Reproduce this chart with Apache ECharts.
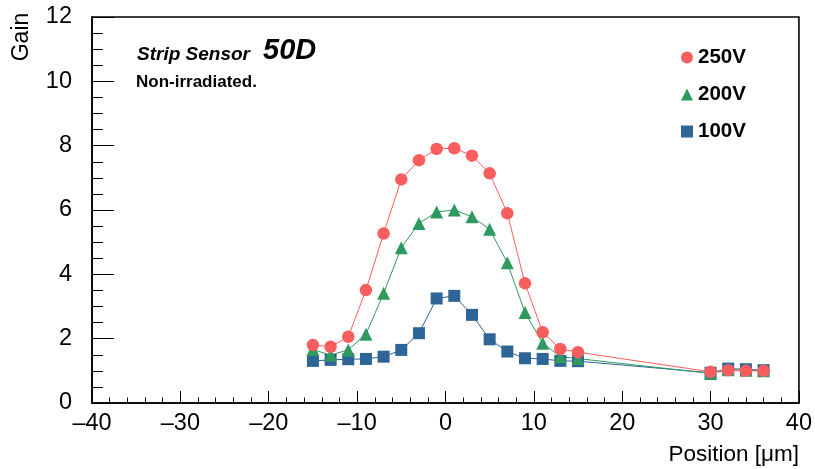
<!DOCTYPE html>
<html>
<head>
<meta charset="utf-8">
<script src="https://cdn.jsdelivr.net/npm/echarts@6/dist/echarts.min.js"></script>
<style>html,body{margin:0;padding:0;background:#fff}#c{width:815px;height:469px}</style>
</head>
<body>
<div id="c"></div>
<script>
const positions = [-15,-13,-11,-9,-7,-5,-3,-1,1,3,5,7,9,11,13,15,30,32,34,36];
const gain250 = [1.80,1.75,2.06,3.51,5.27,6.95,7.55,7.90,7.92,7.69,7.14,5.90,3.72,2.20,1.68,1.58,0.97,1.02,1.00,1.00];
const gain200 = [1.66,1.49,1.65,2.14,3.41,4.83,5.58,5.94,6.00,5.79,5.40,4.36,2.81,1.86,1.44,1.38,0.92,1.03,1.02,1.00];
const gain100 = [1.31,1.34,1.36,1.37,1.44,1.65,2.17,3.25,3.33,2.74,1.98,1.60,1.39,1.37,1.31,1.30,0.94,1.07,1.05,1.02];
const seriesNames = ['250V','200V','100V'];
const xTickLabels = {'-40':'\u201340','-30':'\u201330','-20':'\u201320','-10':'\u201310','0':'0','10':'10','20':'20','30':'30','40':'40'};
const FONT = '"Liberation Sans", Arial, Helvetica, sans-serif';
const RED = '#f95e5e', GREEN = '#2f9a60', BLUE = '#2f6497';

function pairs(ys){ return positions.map((x,i)=>[x, ys[i]]); }

const chart = echarts.init(document.getElementById('c'), null, {renderer:'canvas'});
chart.setOption({
  animation:false,
  backgroundColor:'#fff',
  grid:{left:92, right:16, top:17, bottom:66, show:true, borderColor:'#000', borderWidth:1.6, backgroundColor:'transparent'},
  xAxis:{
    type:'value', min:-40, max:40, interval:10,
    axisLine:{show:true, onZero:false, lineStyle:{color:'#000', width:1.6}},
    axisTick:{show:true, inside:true, length:12, lineStyle:{color:'#000', width:1}},
    minorTick:{show:true, splitNumber:5, length:5.5, lineStyle:{color:'#000', width:1}},
    splitLine:{show:false},
    axisLabel:{margin:9, color:'#000', fontSize:23.5, fontFamily:FONT, formatter:v=>xTickLabels[String(v)]}
  },
  yAxis:{
    type:'value', min:0, max:12, interval:2,
    axisLine:{show:true, onZero:false, lineStyle:{color:'#000', width:1.6}},
    axisTick:{show:true, inside:true, length:22, lineStyle:{color:'#000', width:1}},
    minorTick:{show:true, splitNumber:4, length:11, lineStyle:{color:'#000', width:1}},
    splitLine:{show:false},
    axisLabel:{margin:20, color:'#000', fontSize:23.5, fontFamily:FONT}
  },
  legend:{
    orient:'vertical', left:676, top:42, itemWidth:12, itemHeight:12, itemGap:16,
    textStyle:{fontSize:20.5, fontWeight:'bold', fontFamily:FONT, color:'#000', lineHeight:21},
    data:[{name:seriesNames[0], icon:'circle'},{name:seriesNames[1], icon:'triangle'},{name:seriesNames[2], icon:'rect'}]
  },
  series:[
    {name:seriesNames[2], type:'line', data:pairs(gain100), symbol:'rect', symbolSize:12, showAllSymbol:true,
     itemStyle:{color:BLUE}, lineStyle:{color:BLUE, width:1}},
    {name:seriesNames[1], type:'line', data:pairs(gain200), symbol:'triangle', symbolSize:13, showAllSymbol:true,
     itemStyle:{color:GREEN}, lineStyle:{color:GREEN, width:1}},
    {name:seriesNames[0], type:'line', data:pairs(gain250), symbol:'circle', symbolSize:12.5, showAllSymbol:true,
     itemStyle:{color:RED}, lineStyle:{color:RED, width:1}}
  ],
  graphic:[
    {type:'text', x:137, y:55, style:{text:'Strip Sensor', font:'italic bold 19px '+FONT, fill:'#000', textVerticalAlign:'middle'}},
    {type:'text', x:263, y:51, style:{text:'50D', font:'italic bold 29px '+FONT, fill:'#000', textVerticalAlign:'middle'}},
    {type:'text', x:136, y:82, style:{text:'Non-irradiated.', font:'bold 17px '+FONT, fill:'#000', textVerticalAlign:'middle'}},
    {type:'text', x:22, y:37, rotation:Math.PI/2, style:{text:'Gain', font:'23px '+FONT, fill:'#000', textAlign:'center', textVerticalAlign:'middle'}},
    {type:'text', x:799, y:455, style:{text:'Position [\u03bcm]', font:'22.5px '+FONT, fill:'#000', textAlign:'right', textVerticalAlign:'middle'}}
  ]
});
</script>
</body>
</html>
